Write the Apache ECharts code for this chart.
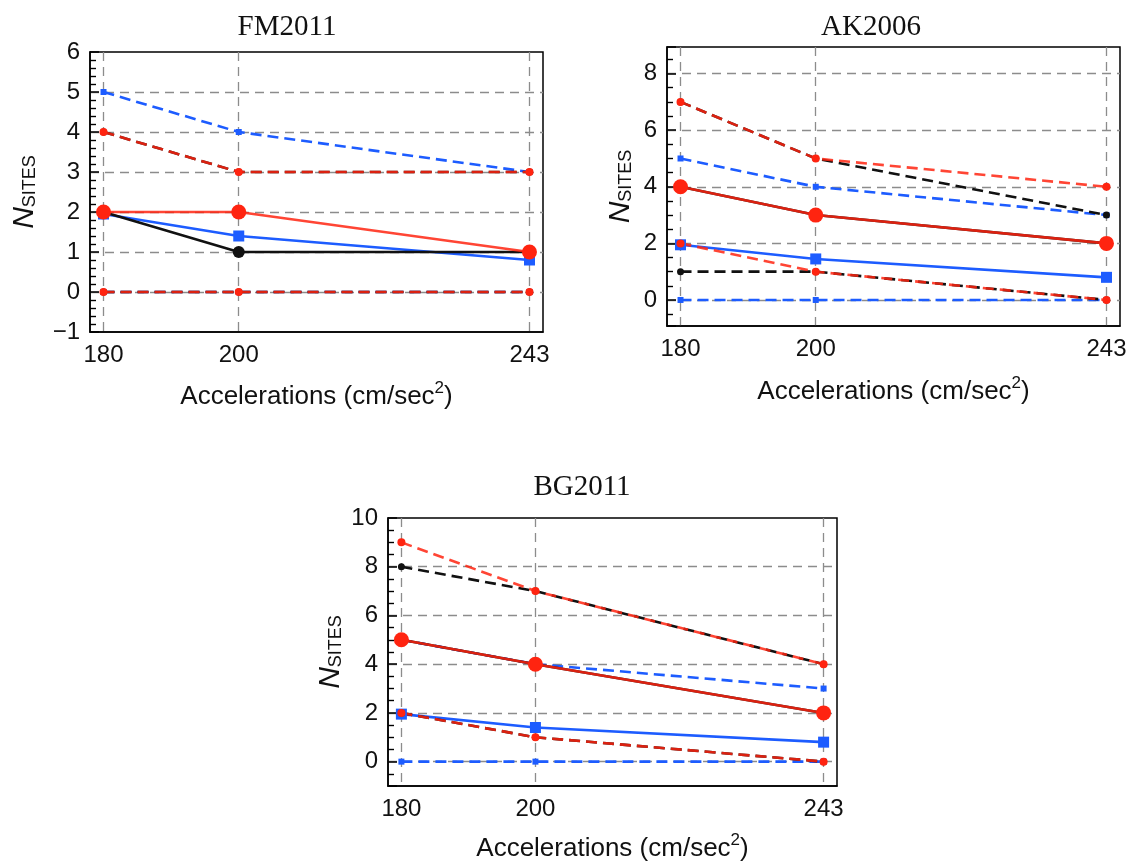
<!DOCTYPE html>
<html><head><meta charset="utf-8">
<script src="https://cdn.jsdelivr.net/npm/echarts@6/dist/echarts.min.js"></script>
<style>html,body{margin:0;padding:0;background:#fff}#c{width:1133px;height:863px}</style>
</head><body><div id="c"></div>
<script>
// ---------- data ----------
const accelerations = [180, 200, 243];
const panelTitles = ['FM2011', 'AK2006', 'BG2011'];

// FM2011
const fmBlueUpper = [5, 4, 3];
const fmBlueLower = [0, 0, 0];
const fmBlueMid = [1.95, 1.4, 0.8];
const fmBlackUpper = [4, 3, 3];
const fmBlackLower = [0, 0, 0];
const fmBlackMid = [2, 1, 1];
const fmRedUpper = [4, 3, 3];
const fmRedLower = [0, 0, 0];
const fmRedMid = [2, 2, 1];

// AK2006
const akBlueUpper = [5, 4, 3];
const akBlueLower = [0, 0, 0];
const akBlueMid = [1.95, 1.45, 0.8];
const akBlackUpper = [7, 5, 3];
const akBlackLower = [1, 1, 0];
const akBlackMid = [4, 3, 2];
const akRedUpper = [7, 5, 4];
const akRedLower = [2, 1, 0];
const akRedMid = [4, 3, 2];

// BG2011
const bgBlueUpper = [5, 4, 3];
const bgBlueLower = [0, 0, 0];
const bgBlueMid = [1.95, 1.4, 0.8];
const bgBlackUpper = [8, 7, 4];
const bgBlackLower = [2, 1, 0];
const bgBlackMid = [5, 4, 2];
const bgRedUpper = [9, 7, 4];
const bgRedLower = [2, 1, 0];
const bgRedMid = [5, 4, 2];

// ---------- layout / styles ----------
const RED = '#ff2410', BLUE = '#1d5cff', BLACK = '#111111';
const DASH = [11, 6];

const panels = [
  { title: panelTitles[0], titleX: 282, titleY: 8,
    grid: { left: 90, top: 52, width: 453, height: 280 },
    y: { min: -1, max: 6, interval: 1, minorSplit: 5 },
    yNameGap: 50, xNameGap: 48,
    series: [fmBlueUpper, fmBlueLower, fmBlueMid, fmBlackUpper, fmBlackLower, fmBlackMid, fmRedUpper, fmRedLower, fmRedMid] },
  { title: panelTitles[1], titleX: 866, titleY: 8,
    grid: { left: 667, top: 47, width: 453, height: 279 },
    y: { min: -0.92, max: 8.94, splitNumber: 5, minorSplit: 4 },
    yNameGap: 31, xNameGap: 49,
    series: [akBlueUpper, akBlueLower, akBlueMid, akBlackUpper, akBlackLower, akBlackMid, akRedUpper, akRedLower, akRedMid] },
  { title: panelTitles[2], titleX: 577, titleY: 468,
    grid: { left: 388, top: 518, width: 449, height: 268 },
    y: { min: -1, max: 10, splitNumber: 5, minorSplit: 4 },
    yNameGap: 42, xNameGap: 46,
    series: [bgBlueUpper, bgBlueLower, bgBlueMid, bgBlackUpper, bgBlackLower, bgBlackMid, bgRedUpper, bgRedLower, bgRedMid] }
];

const seriesStyles = [
  { name: 'blue upper', color: BLUE, dash: true, symbol: 'rect', size: 6, op: 1 },
  { name: 'blue lower', color: BLUE, dash: true, symbol: 'rect', size: 6, op: 1 },
  { name: 'blue median', color: BLUE, dash: false, symbol: 'rect', size: 11, op: 1 },
  { name: 'black upper', color: BLACK, dash: true, symbol: 'circle', size: 7, op: 1 },
  { name: 'black lower', color: BLACK, dash: true, symbol: 'circle', size: 7, op: 1 },
  { name: 'black median', color: BLACK, dash: false, symbol: 'circle', size: 12, op: 1 },
  { name: 'red upper', color: RED, dash: true, symbol: 'circle', size: 8, op: 0.85 },
  { name: 'red lower', color: RED, dash: true, symbol: 'circle', size: 8, op: 0.85 },
  { name: 'red median', color: RED, dash: false, symbol: 'circle', size: 15, op: 0.85 }
];

const FONT = 'Liberation Sans';
const grids = [], xAxes = [], yAxes = [], titles = [], series = [];

panels.forEach((p, i) => {
  grids.push(Object.assign({ show: true, borderColor: '#000', borderWidth: 1.5, backgroundColor: 'transparent',
    containLabel: false, outerBoundsMode: 'none' }, p.grid));
  titles.push({ text: p.title, left: p.titleX, top: p.titleY, textAlign: 'center',
    textStyle: { fontFamily: 'Liberation Serif', fontSize: 29, fontWeight: 'normal', color: '#111' } });
  xAxes.push({
    type: 'value', gridIndex: i, min: 178, max: 245,
    axisLine: { show: true, onZero: false, lineStyle: { color: '#000', width: 1.5 } },
    axisTick: { show: false, customValues: accelerations },
    axisLabel: { customValues: accelerations, margin: 11, fontFamily: FONT, fontSize: 24, color: '#111' },
    splitLine: { show: true, customValues: accelerations, lineStyle: { color: '#8c8c8c', width: 1.3, type: [9, 6] } },
    name: 'Accelerations (cm/sec{sup|2})', nameLocation: 'middle', nameGap: p.xNameGap,
    nameTextStyle: { fontFamily: FONT, fontSize: 26, lineHeight: 34, color: '#111',
      rich: { sup: { fontFamily: FONT, fontSize: 17, color: '#111', verticalAlign: 'top' } } }
  });
  const y = {
    type: 'value', gridIndex: i, min: p.y.min, max: p.y.max,
    axisLine: { show: true, onZero: false, lineStyle: { color: '#000', width: 1.5 } },
    axisTick: { show: true, inside: true, length: 9, lineStyle: { color: '#000', width: 1.5 } },
    minorTick: { show: true, splitNumber: p.y.minorSplit, length: 6, lineStyle: { color: '#000', width: 1.4 } },
    axisLabel: { margin: 10, fontFamily: FONT, fontSize: 24, color: '#111', showMinLabel: i === 0, showMaxLabel: i !== 1,
      formatter: v => String(v).replace('-', '\u2212') },
    splitLine: { show: true, showMinLine: false, showMaxLine: false, lineStyle: { color: '#8c8c8c', width: 1.3, type: [9, 6] } },
    name: '{n|N}{s|SITES}', nameLocation: 'middle', nameRotate: 90, nameGap: p.yNameGap,
    nameTextStyle: { rich: {
      n: { fontFamily: FONT, fontStyle: 'italic', fontSize: 30, color: '#111', verticalAlign: 'bottom' },
      s: { fontFamily: FONT, fontSize: 18, color: '#111', verticalAlign: 'bottom', padding: [0, 0, 1, 0] } } }
  };
  if (p.y.interval) y.interval = p.y.interval; else y.splitNumber = p.y.splitNumber;
  yAxes.push(y);
  p.series.forEach((vals, k) => {
    const st = seriesStyles[k];
    series.push({
      type: 'line', name: p.title + ' ' + st.name, xAxisIndex: i, yAxisIndex: i,
      data: accelerations.map((a, j) => [a, vals[j]]),
      symbol: st.symbol, symbolSize: st.size, showSymbol: true,
      lineStyle: { color: st.color, width: 2.6, type: st.dash ? DASH : 'solid', opacity: st.op },
      itemStyle: { color: st.color, opacity: 1 },
      emphasis: { disabled: true }, silent: true, animation: false
    });
  });
});

const chart = echarts.init(document.getElementById('c'), null, { renderer: 'canvas' });
chart.setOption({ animation: false, title: titles, grid: grids, xAxis: xAxes, yAxis: yAxes, series: series });
</script></body></html>
